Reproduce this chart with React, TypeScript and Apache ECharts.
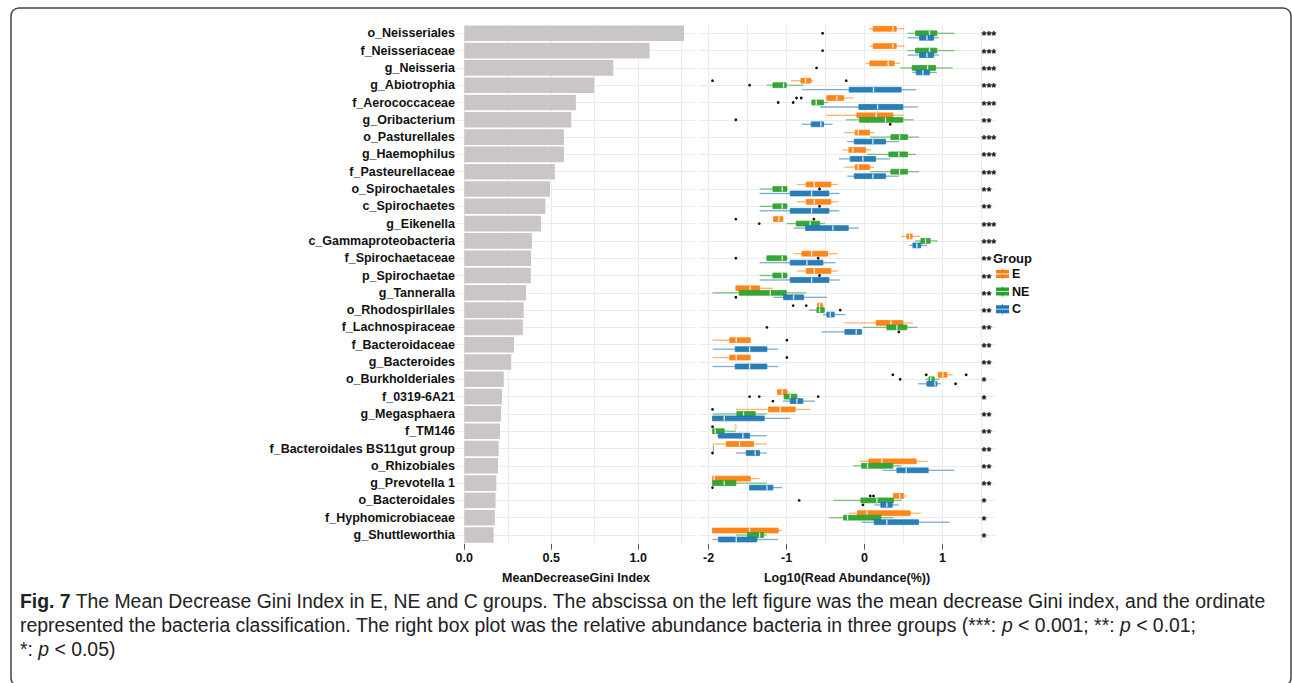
import React, { useEffect, useRef } from 'react';
import * as echarts from 'echarts';

const categories = [
  'o_Neisseriales', 'f_Neisseriaceae', 'g_Neisseria', 'g_Abiotrophia', 'f_Aerococcaceae',
  'g_Oribacterium', 'o_Pasturellales', 'g_Haemophilus', 'f_Pasteurellaceae', 'o_Spirochaetales',
  'c_Spirochaetes', 'g_Eikenella', 'c_Gammaproteobacteria', 'f_Spirochaetaceae', 'p_Spirochaetae',
  'g_Tanneralla', 'o_Rhodospirllales', 'f_Lachnospiraceae', 'f_Bacteroidaceae', 'g_Bacteroides',
  'o_Burkholderiales', 'f_0319-6A21', 'g_Megasphaera', 'f_TM146', 'f_Bacteroidales BS11gut group',
  'o_Rhizobiales', 'g_Prevotella 1', 'o_Bacteroidales', 'f_Hyphomicrobiaceae', 'g_Shuttleworthia',
];

const giniIndex = [
  1.264, 1.066, 0.857, 0.747, 0.642, 0.615, 0.573, 0.573, 0.521, 0.493,
  0.466, 0.441, 0.389, 0.384, 0.383, 0.355, 0.342, 0.337, 0.286, 0.27,
  0.227, 0.217, 0.211, 0.205, 0.198, 0.194, 0.184, 0.18, 0.176, 0.169,
];

const giniTicks = [0, 0.5, 1.0];
const giniGrid = [0, 0.25, 0.5, 0.75, 1.0, 1.25];
const abundTicks = [-2, -1, 0, 1];
const abundGrid = [-2, -1.5, -1, -0.5, 0, 0.5, 1, 1.5];

const groups = ['E', 'NE', 'C'];
const groupColors = ['#FF7F0E', '#2CA02C', '#1F77B4'];

// [lower whisker, Q1, median, Q3, upper whisker] per category (null = absent)
const boxE = [
  [0.06, 0.11, 0.363, 0.406, 0.512],
  [0.06, 0.11, 0.363, 0.406, 0.512],
  [0.013, 0.068, 0.303, 0.38, 0.457],
  [-0.944, -0.816, -0.756, -0.688, -0.654],
  [-0.491, -0.483, -0.355, -0.269, -0.141],
  [-0.491, -0.098, 0.15, 0.363, 0.5],
  [-0.261, -0.12, -0.081, 0.064, 0.124],
  [-0.282, -0.201, -0.15, 0.013, 0.081],
  [-0.261, -0.12, -0.081, 0.064, 0.124],
  [-0.868, -0.748, -0.645, -0.432, -0.338],
  [-0.868, -0.748, -0.645, -0.432, -0.338],
  [-1.167, -1.167, -1.098, -1.047, -1.047],
  [0.466, 0.543, 0.577, 0.611, 0.714],
  [-0.91, -0.803, -0.679, -0.474, -0.346],
  [-0.868, -0.748, -0.645, -0.432, -0.338],
  [-1.65, -1.65, -1.466, -1.346, -1.175],
  [-0.603, -0.603, -0.577, -0.543, -0.517],
  [-0.261, 0.15, 0.338, 0.491, 0.62],
  [-1.949, -1.73, -1.645, -1.466, -1.466],
  [-1.949, -1.73, -1.645, -1.466, -1.466],
  [0.944, 0.944, 1.004, 1.056, 1.132],
  [-1.115, -1.115, -1.056, -0.996, -0.962],
  [-1.65, -1.231, -1.081, -0.889, -0.697],
  [-1.66, -1.66, -1.66, -1.66, -1.66],
  [-1.949, -1.774, -1.603, -1.423, -1.252],
  [-0.064, 0.056, 0.222, 0.662, 0.808],
  [-1.949, -1.949, -1.927, -1.466, -1.346],
  [0.363, 0.372, 0.449, 0.5, 0.534],
  [-0.201, -0.09, 0.03, 0.585, 0.722],
  [-1.949, -1.949, -1.474, -1.107, -1.056],
];

const boxNE = [
  [0.551, 0.654, 0.833, 0.927, 1.15],
  [0.551, 0.654, 0.833, 0.927, 1.15],
  [0.457, 0.611, 0.808, 0.91, 1.132],
  [-1.252, -1.175, -1.038, -1.004, -0.782],
  [-0.684, -0.675, -0.62, -0.526, -0.466],
  [-0.239, -0.064, 0.269, 0.491, 0.628],
  [0.073, 0.338, 0.449, 0.551, 0.697],
  [0.03, 0.312, 0.44, 0.551, 0.662],
  [0.073, 0.338, 0.449, 0.551, 0.697],
  [-1.346, -1.175, -1.056, -0.996, -0.987],
  [-1.346, -1.175, -1.056, -0.996, -0.987],
  [-0.996, -0.876, -0.697, -0.577, -0.509],
  [0.65, 0.722, 0.782, 0.842, 0.936],
  [-1.26, -1.252, -1.056, -1.0, -0.98],
  [-1.346, -1.175, -1.056, -0.996, -0.987],
  [-1.949, -1.607, -1.209, -1.004, -0.748],
  [-0.714, -0.611, -0.577, -0.517, -0.509],
  [-0.021, 0.286, 0.415, 0.543, 0.679],
  null,
  null,
  [0.782, 0.825, 0.85, 0.893, 0.962],
  [-1.038, -1.03, -0.953, -0.868, -0.859],
  [-1.949, -1.637, -1.551, -1.402, -1.252],
  [-1.949, -1.949, -1.915, -1.799, -1.65],
  [-1.949, -1.949, -1.949, -1.949, -1.949],
  [-0.145, -0.038, 0.038, 0.363, 0.474],
  [-1.949, -1.949, -1.799, -1.65, -1.252],
  [-0.397, -0.047, 0.158, 0.372, 0.474],
  [-0.457, -0.269, -0.218, 0.209, 0.372],
  [-1.65, -1.5, -1.346, -1.295, -1.252],
];

const boxC = [
  [0.551, 0.705, 0.8, 0.885, 0.953],
  [0.551, 0.705, 0.8, 0.885, 0.953],
  [0.611, 0.662, 0.748, 0.833, 0.927],
  [-0.803, -0.197, 0.115, 0.47, 0.662],
  [-0.573, -0.073, 0.167, 0.491, 0.688],
  [-0.803, -0.684, -0.56, -0.526, -0.41],
  [-0.222, -0.132, 0.107, 0.269, 0.44],
  [-0.329, -0.184, -0.021, 0.141, 0.329],
  [-0.222, -0.132, 0.107, 0.269, 0.44],
  [-1.346, -0.953, -0.679, -0.457, -0.321],
  [-1.346, -0.953, -0.679, -0.457, -0.321],
  [-0.91, -0.756, -0.406, -0.209, -0.073],
  [0.568, 0.62, 0.671, 0.722, 0.799],
  [-1.346, -0.953, -0.739, -0.534, -0.372],
  [-1.346, -0.953, -0.679, -0.457, -0.321],
  [-1.167, -1.038, -0.91, -0.782, -0.483],
  [-0.534, -0.483, -0.44, -0.389, -0.244],
  [-0.551, -0.252, -0.107, -0.038, -0.03],
  [-1.949, -1.658, -1.474, -1.252, -1.107],
  [-1.949, -1.658, -1.474, -1.252, -1.107],
  [0.688, 0.799, 0.902, 0.927, 0.979],
  [-1.047, -0.953, -0.868, -0.791, -0.637],
  [-1.949, -1.949, -1.799, -1.286, -0.953],
  [-1.893, -1.872, -1.56, -1.474, -1.252],
  [-1.65, -1.517, -1.402, -1.346, -1.252],
  [0.231, 0.415, 0.534, 0.816, 1.15],
  [-1.474, -1.474, -1.252, -1.175, -1.056],
  [0.124, 0.209, 0.286, 0.355, 0.44],
  [-0.043, 0.124, 0.286, 0.692, 1.09],
  [-1.949, -1.872, -1.645, -1.38, -1.107],
];

// outliers: [category index, value]
const outliersE = [
  [3, -1.949], [3, -0.235], [4, -0.872], [4, -0.812], [11, -1.65], [11, -0.65],
  [16, -0.915], [16, -0.748], [18, -0.996], [19, -0.996], [20, 0.363], [20, 0.791],
  [20, 1.303], [22, -1.949], [23, -1.949], [27, 0.073], [27, 0.115],
];
const outliersNE = [
  [0, -0.538], [1, -0.538], [2, -0.615], [3, -1.474], [4, -1.107], [4, -0.915],
  [5, -1.65], [9, -0.577], [10, -0.577], [11, -1.35], [13, -1.65], [13, -0.594],
  [14, -0.577], [16, -0.312], [17, -1.252], [20, 0.457], [21, -1.474], [21, -1.35],
  [21, -0.594], [27, -0.838],
];
const outliersC = [
  [5, 0.329], [15, -1.65], [17, 0.44], [20, 1.167], [21, -1.175], [24, -1.949],
  [26, -1.949], [27, -0.021],
];

const stars = [
  '***', '***', '***', '***', '***', '**', '***', '***', '***', '**',
  '**', '***', '***', '**', '**', '**', '**', '**', '**', '**',
  '*', '*', '**', '**', '**', '**', '**', '*', '*', '*',
];
const starsPosition = 1.5;

const FONT = 'Liberation Sans, Arial, Helvetica, sans-serif';
const GRID_COLOR = '#EBEBEB';
const TEXT_COLOR = '#111111';
const LEGEND_ICON = 'path://M6,0H7V1H13V4.6H0V1H6Z M0,5.4H13V9H7V10H6V9H0Z';

function boxSeries(gIdx: number, boxes: (number[] | null)[], withGrid: boolean) {
  const color = groupColors[gIdx];
  const data: number[][] = [];
  boxes.forEach((b, i) => {
    if (b) data.push([i, ...b]);
  });
  const s: any = {
    type: 'custom',
    name: groups[gIdx],
    xAxisIndex: 1,
    yAxisIndex: 1,
    z: 3,
    itemStyle: { color },
    encode: { y: 0, x: [1, 2, 3, 4, 5] },
    data,
    renderItem: (params: any, api: any) => {
      const row = api.value(0);
      const band = api.size([0, 1])[1];
      const off = (gIdx - 1) * band * 0.26;
      const h = band * 0.28;
      const p = [1, 2, 3, 4, 5].map((d) => api.coord([api.value(d), row]));
      const y = p[0][1] + off;
      return {
        type: 'group',
        children: [
          { type: 'line', shape: { x1: p[0][0], y1: y, x2: p[1][0], y2: y }, style: { stroke: color, lineWidth: 1.3, opacity: 0.6 } },
          { type: 'line', shape: { x1: p[3][0], y1: y, x2: p[4][0], y2: y }, style: { stroke: color, lineWidth: 1.3, opacity: 0.6 } },
          { type: 'rect', shape: { x: p[1][0], y: y - h / 2, width: Math.max(p[3][0] - p[1][0], 0.8), height: h }, style: { fill: color, stroke: color, lineWidth: 0.8, opacity: 0.95 } },
          { type: 'line', shape: { x1: p[2][0], y1: y - h / 2, x2: p[2][0], y2: y + h / 2 }, style: { stroke: '#ffffff', lineWidth: 1.3, opacity: 0.85 } },
        ],
      };
    },
  };
  if (withGrid) {
    s.markLine = {
      silent: true,
      z: 1,
      symbol: ['none', 'none'],
      label: { show: false },
      lineStyle: { color: GRID_COLOR, width: 1, type: 'solid' },
      emphasis: { disabled: true },
      data: [
        ...categories.map((_, i) => ({ yAxis: i })),
        ...abundGrid.map((v) => ({ xAxis: v })),
      ],
    };
  }
  return s;
}

function outlierSeries() {
  const data: number[][] = [];
  [outliersE, outliersNE, outliersC].forEach((arr, g) => arr.forEach((o) => data.push([o[0], o[1], g])));
  return {
    type: 'custom',
    name: 'outliers',
    xAxisIndex: 1,
    yAxisIndex: 1,
    z: 4,
    encode: { y: 0, x: 1 },
    data,
    renderItem: (params: any, api: any) => {
      const row = api.value(0);
      const g = api.value(2);
      const band = api.size([0, 1])[1];
      const pt = api.coord([api.value(1), row]);
      return { type: 'circle', shape: { cx: pt[0], cy: pt[1] + (g - 1) * band * 0.26, r: 1.4 }, style: { fill: '#111' } };
    },
  };
}

function starSeries() {
  return {
    type: 'custom',
    name: 'stars',
    xAxisIndex: 1,
    yAxisIndex: 1,
    z: 4,
    encode: { y: 0, x: 1 },
    data: stars.map((_, i) => [i, starsPosition]),
    renderItem: (params: any, api: any) => {
      const pt = api.coord([api.value(1), api.value(0)]);
      return {
        type: 'text',
        x: pt[0],
        y: pt[1] + 3,
        style: {
          text: stars[params.dataIndex],
          fill: TEXT_COLOR,
          fontSize: 12.5,
          fontWeight: 'bold',
          fontFamily: FONT,
          align: 'left',
          verticalAlign: 'middle',
        },
      };
    },
  };
}

export default function App() {
  const ref = useRef<HTMLDivElement>(null);
  useEffect(() => {
    if (!ref.current) return;
    const chart = echarts.init(ref.current, null, { renderer: 'svg' });
    const gridTop = 24.65;
    const gridHeight = 519;
    const axisLabelStyle = { fontSize: 12.5, fontWeight: 'bold', color: TEXT_COLOR, fontFamily: FONT };
    const captionStyle = { fill: '#222', fontSize: 19.4, fontFamily: FONT };
    const option: any = {
      animation: false,
      backgroundColor: '#ffffff',
      textStyle: { fontFamily: FONT },
      grid: [
        { left: 457, top: gridTop, width: 238, height: gridHeight, outerBoundsMode: 'none' },
        { left: 699, top: gridTop, width: 296, height: gridHeight, outerBoundsMode: 'none' },
      ],
      xAxis: [
        {
          type: 'value', gridIndex: 0, min: -0.042, max: 1.327,
          axisLine: { show: false },
          splitLine: { show: false },
          axisTick: { show: true, length: 6, customValues: giniTicks, lineStyle: { color: '#555' } },
          axisLabel: { ...axisLabelStyle, margin: 8, customValues: giniTicks, formatter: (v: number) => v.toFixed(1) },
          name: 'MeanDecreaseGini Index', nameLocation: 'middle', nameGap: 28,
          nameTextStyle: { fontSize: 12.5, fontWeight: 'bold', color: TEXT_COLOR, fontFamily: FONT },
        },
        {
          type: 'value', gridIndex: 1, min: -2.1225, max: 1.6725,
          axisLine: { show: false },
          splitLine: { show: false },
          axisTick: { show: true, length: 6, customValues: abundTicks, lineStyle: { color: '#555' } },
          axisLabel: { ...axisLabelStyle, margin: 8, customValues: abundTicks, formatter: (v: number) => String(v) },
          name: 'Log10(Read Abundance(%))', nameLocation: 'middle', nameGap: 28,
          nameTextStyle: { fontSize: 12.5, fontWeight: 'bold', color: TEXT_COLOR, fontFamily: FONT },
        },
      ],
      yAxis: [
        {
          type: 'category', gridIndex: 0, inverse: true, data: categories,
          axisLine: { show: false },
          axisTick: { show: true, length: 3, alignWithLabel: true, interval: 0, lineStyle: { color: '#555' } },
          axisLabel: { ...axisLabelStyle, margin: 2, interval: 0 },
          splitLine: { show: false },
        },
        {
          type: 'category', gridIndex: 1, inverse: true, data: categories,
          axisLine: { show: false },
          axisTick: { show: false },
          axisLabel: { show: false },
          splitLine: { show: false },
        },
      ],
      legend: {
        orient: 'vertical',
        left: 996,
        top: 267,
        padding: 0,
        itemWidth: 13,
        itemHeight: 11,
        itemGap: 3.6,
        selectedMode: false,
        data: groups.map((g) => ({ name: g, icon: LEGEND_ICON })),
        textStyle: { fontSize: 12.5, fontWeight: 'bold', color: TEXT_COLOR, fontFamily: FONT, lineHeight: 14, padding: [0, 0, 0, -2] },
      },
      series: [
        {
          type: 'bar',
          name: 'gini',
          xAxisIndex: 0,
          yAxisIndex: 0,
          data: giniIndex,
          barCategoryGap: '10%',
          z: 2,
          itemStyle: { color: '#CAC6C6' },
          markLine: {
            silent: true,
            z: 1,
            symbol: ['none', 'none'],
            label: { show: false },
            lineStyle: { color: GRID_COLOR, width: 1, type: 'solid' },
            emphasis: { disabled: true },
            data: [
              ...categories.map((_, i) => ({ yAxis: i })),
              ...giniGrid.map((v) => ({ xAxis: v })),
            ],
          },
        },
        boxSeries(0, boxE, true),
        boxSeries(1, boxNE, false),
        boxSeries(2, boxC, false),
        outlierSeries(),
        starSeries(),
      ],
      graphic: [
        {
          type: 'rect',
          shape: { x: 11, y: 8, width: 1280, height: 678, r: 8 },
          style: { fill: 'none', stroke: '#444', lineWidth: 1.5 },
          silent: true,
        },
        {
          type: 'text', left: 993, top: 252,
          style: { text: 'Group', fill: TEXT_COLOR, fontSize: 13, fontWeight: 'bold', fontFamily: FONT },
        },
        {
          type: 'text', left: 20, top: 591,
          style: {
            text: '{b|Fig. 7} The Mean Decrease Gini Index in E, NE and C groups. The abscissa on the left figure was the mean decrease Gini index, and the ordinate',
            ...captionStyle,
            rich: { b: { ...captionStyle, fontWeight: 'bold' } },
          },
        },
        {
          type: 'text', left: 20, top: 615,
          style: {
            text: 'represented the bacteria classification. The right box plot was the relative abundance bacteria in three groups (***: {i|p} < 0.001; **: {i|p} < 0.01;',
            ...captionStyle,
            rich: { i: { ...captionStyle, fontStyle: 'italic' } },
          },
        },
        {
          type: 'text', left: 20, top: 639,
          style: {
            text: '*: {i|p} < 0.05)',
            ...captionStyle,
            rich: { i: { ...captionStyle, fontStyle: 'italic' } },
          },
        },
      ],
    };
    chart.setOption(option);
    return () => chart.dispose();
  }, []);
  return (
    <div
      ref={ref}
      style={{ position: 'absolute', left: 0, top: 0, width: 1292, height: 683, background: '#fff' }}
    />
  );
}
